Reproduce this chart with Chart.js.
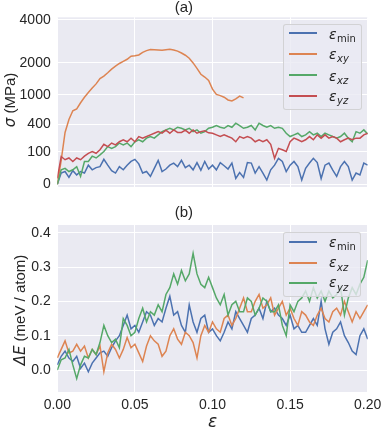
<!DOCTYPE html>
<html><head><meta charset="utf-8">
<script src="https://cdn.jsdelivr.net/npm/chart.js@4/dist/chart.umd.min.js"></script>
<style>
html,body{margin:0;padding:0;background:#fff;}
#wrap{position:relative;width:383px;height:427px;overflow:hidden;font-family:"Liberation Sans",Arial,sans-serif;color:#262626;}
.pane{position:absolute;left:0;width:383px;}
.ylab{position:absolute;font-size:15px;line-height:15px;white-space:nowrap;transform:translate(-50%,-50%) rotate(-90deg);}
.m{font-family:"DejaVu Sans";font-style:italic;}
.leg{position:absolute;background:rgba(234,234,242,0.8);border:1px solid rgba(204,204,204,0.8);border-radius:3px;box-sizing:border-box;}
.li{position:absolute;left:5px;width:28px;height:2px;}
.lt{position:absolute;left:44.7px;font-family:"DejaVu Sans";font-size:14px;line-height:14px;white-space:nowrap;}
.lt .e{font-style:italic;}
.lt .s{font-size:10px;position:relative;top:3.5px;margin-left:0.5px;}
.lt .si{font-style:italic;}
</style></head>
<body>
<div id="wrap">
  <div class="pane" style="top:0;height:200px;"><canvas id="c1" width="383" height="200"></canvas></div>
  <div class="pane" style="top:200px;height:227px;"><canvas id="c2" width="383" height="227"></canvas></div>
  <div class="ylab" style="left:10px;top:100px;"><span class="m">σ</span> (MPa)</div>
  <div class="ylab" style="left:20px;top:310px;"><span class="m">ΔE</span> (meV / atom)</div>
  <div id="leg1" class="leg" style="left:283.3px;top:24px;width:78.4px;height:86px;"></div>
  <div id="leg2" class="leg" style="left:283.3px;top:231.7px;width:77.7px;height:65px;"></div>
</div>
<script>
// ---------- data ----------
const STRAIN_STEP = 0.0025;           // strain spacing of the sampled curves
const strainTicks = [0, 0.05, 0.10, 0.15, 0.20];
const sigmaTicks = [0, 100, 400, 1000, 2000, 4000];
const dETicks = [0.0, 0.1, 0.2, 0.3, 0.4];

// (a) stress, MPa
const sigmaMin = [0,9,12,3,14,6,12,9,30,16, 22,25,55,30,14,9,25,16,30,45, 55,35,9,12,4,20,50,12,18,30, 38,25,50,22,30,16,40,15,45,18, 30,16,40,28,18,38,2,10,3,40, 38,9,25,9,1,16,30,60,45,12, 30,45,25,1,20,38,60,40,2,30, 38,15,4,25,45,25,1,9,6,38, 30];
const sigmaXY = [0,50,290,480,640,680,810,940,1060,1180, 1300,1460,1540,1650,1775,1880,1980,2060,2140,2260, 2280,2310,2420,2490,2540,2530,2520,2510,2530,2550, 2520,2470,2390,2300,2180,2000,1800,1600,1510,1400, 1150,1010,980,940,875,850,900,970,925];
const sigmaXZ = [0,16,20,12,16,25,4,45,45,72, 62,80,102,140,126,140,172,155,172,140, 185,205,185,222,240,222,260,300,323,345, 323,360,345,323,345,300,323,280,300,345, 360,385,360,345,385,360,420,385,345,360, 385,323,420,385,360,385,345,360,345,280, 240,260,280,240,260,300,260,280,240,280, 260,240,222,240,280,222,185,300,280,323, 270];
const sigmaYZ = [2,70,53,62,45,62,53,72,90,102, 90,115,160,140,172,155,185,205,185,222, 185,240,222,240,260,280,300,280,320,280, 323,290,290,320,280,323,280,300,310,285, 280,260,240,260,240,222,185,240,222,240, 222,185,205,185,205,160,60,126,115,102, 185,222,205,185,205,240,205,260,222,260, 222,240,222,185,205,222,205,222,222,260, 280];

// (b) energy, meV / atom
const dEmin = [0.015,0.04,0.055,0.035,0.025,0.04,0.005,0.02,-0.005,0.02, 0.035,0.05,0.055,0.04,0.065,0.085,0.10,0.13,0.16,0.12, 0.13,0.11,0.14,0.17,0.16,0.13,0.15,0.14,0.18,0.215, 0.16,0.17,0.13,0.11,0.19,0.14,0.11,0.15,0.16,0.11, 0.12,0.10,0.085,0.11,0.14,0.12,0.17,0.15,0.13,0.11, 0.15,0.16,0.18,0.15,0.20,0.17,0.18,0.16,0.15,0.13, 0.16,0.12,0.13,0.11,0.11,0.13,0.15,0.13,0.20,0.12, 0.075,0.11,0.12,0.14,0.10,0.08,0.055,0.045,0.10,0.12, 0.09];
const dExz = [0.035,0.06,0.085,0.05,0.055,0.075,0.055,0.07,0.035,0.06, 0.045,0.07,-0.005,0.05,0.075,0.06,0.035,0.06,0.095,0.065, 0.075,0.05,0.025,0.07,0.10,0.085,0.075,0.04,0.055,0.10, 0.12,0.09,0.075,0.11,0.10,0.08,0.035,0.10,0.13,0.11, 0.14,0.12,0.11,0.15,0.16,0.13,0.15,0.18,0.21,0.17, 0.17,0.20,0.22,0.18,0.19,0.21,0.16,0.18,0.20,0.16, 0.18,0.15,0.13,0.17,0.16,0.14,0.13,0.16,0.18,0.15, 0.14,0.17,0.18,0.16,0.20,0.17,0.14,0.17,0.15,0.17, 0.19];
const dEyz = [0.00,0.03,0.035,0.06,0.015,-0.025,0.015,0.04,0.035,0.06, 0.045,0.08,0.13,0.10,0.08,0.09,0.065,0.15,0.13,0.10, 0.11,0.15,0.18,0.14,0.17,0.16,0.19,0.17,0.22,0.24, 0.28,0.25,0.29,0.26,0.28,0.34,0.28,0.25,0.24,0.27, 0.24,0.21,0.19,0.22,0.16,0.19,0.20,0.17,0.17,0.21, 0.20,0.16,0.18,0.21,0.20,0.17,0.17,0.19,0.13,0.10, 0.19,0.17,0.20,0.21,0.23,0.20,0.24,0.21,0.23,0.20, 0.23,0.21,0.22,0.24,0.16,0.21,0.24,0.22,0.25,0.27, 0.32];

// ---------- style ----------
const BLUE='#4C72B0', ORANGE='#DD8452', GREEN='#55A868', RED='#C44E52';
const FONT='"Liberation Sans", Arial, sans-serif';
const TXT='#262626';
const POW = 0.44;  // power-law y scale of panel (a)
const fwd = v => Math.sign(v)*Math.pow(Math.abs(v), POW);
const pts = (arr, f) => arr.map((v,i)=>({x: Math.round(i*STRAIN_STEP*10000)/10000, y: f ? f(v) : v}));

const bgPlugin = {id:'bg', beforeDraw(c){const a=c.chartArea, ctx=c.ctx; ctx.save(); ctx.fillStyle='#EAEAF2'; ctx.fillRect(a.left,a.top,a.right-a.left,a.bottom-a.top); ctx.restore();}};
function ds(label, data, color, order){
  return {label, data, borderColor:color, backgroundColor:color, borderWidth:1.5, pointRadius:0, tension:0, fill:false, order};
}
function noPad(s){ s.paddingLeft=0; s.paddingRight=0; s.paddingTop=0; s.paddingBottom=0; }
function xScale(showLabels, h){
  return {type:'linear', min:0, max:0.2,
    afterBuildTicks:s=>{s.ticks=strainTicks.map(v=>({value:v}));},
    ticks:{display:showLabels, callback:(v,i)=>strainTicks[i].toFixed(2), font:{family:FONT,size:14}, color:TXT, padding:5, maxRotation:0, autoSkip:false},
    grid:{color:'#ffffff', lineWidth:1, drawTicks:false},
    border:{display:false},
    title: showLabels ? {display:true, text:'ε', font:{family:'"DejaVu Sans"', size:17, style:'italic', lineHeight:1}, color:TXT, padding:{top:0,bottom:-4}} : {display:false},
    afterFit:s=>{s.height=h; noPad(s);}
  };
}
function baseOpts(title, tPad){
  return {responsive:false, animation:false, events:[], devicePixelRatio:1,
    layout:{padding:{left:0,right:15.3,top:0,bottom:0}},
    plugins:{legend:{display:false}, tooltip:{enabled:false},
      title:{display:true, text:title, font:{family:FONT,size:15,weight:'normal',lineHeight:1}, color:TXT, padding:tPad}},
  };
}

const o1 = baseOpts('(a)', {top:0,bottom:2.3});
o1.scales = {
  x: xScale(false, 13),
  y: {type:'linear', min:-0.63, max:39.0,
      afterBuildTicks:s=>{s.ticks=sigmaTicks.map(v=>({value:fwd(v)}));},
      ticks:{callback:(v,i)=>String(sigmaTicks[i]), font:{family:FONT,size:14}, color:TXT, padding:6.6, autoSkip:false},
      grid:{color:'#ffffff', lineWidth:1, drawTicks:false}, border:{display:false},
      afterFit:s=>{s.width=57.3; noPad(s);}}
};
new Chart(document.getElementById('c1'), {type:'line',
  data:{datasets:[
    ds('ε_min', pts(sigmaMin, fwd), BLUE, 4),
    ds('ε_xy', pts(sigmaXY, fwd), ORANGE, 3),
    ds('ε_xz', pts(sigmaXZ, fwd), GREEN, 2),
    ds('ε_yz', pts(sigmaYZ, fwd), RED, 1)]},
  options:o1, plugins:[bgPlugin]});

const o2 = baseOpts('(b)', {top:5.5,bottom:4.5});
o2.scales = {
  x: xScale(true, 35),
  y: {type:'linear', min:-0.064, max:0.4224,
      afterBuildTicks:s=>{s.ticks=dETicks.map(v=>({value:v}));},
      ticks:{callback:(v,i)=>dETicks[i].toFixed(1), font:{family:FONT,size:14}, color:TXT, padding:6.6, autoSkip:false},
      grid:{color:'#ffffff', lineWidth:1, drawTicks:false}, border:{display:false},
      afterFit:s=>{s.width=57.3; noPad(s);}}
};
new Chart(document.getElementById('c2'), {type:'line',
  data:{datasets:[
    ds('ε_min', pts(dEmin), BLUE, 3),
    ds('ε_xz', pts(dExz), ORANGE, 2),
    ds('ε_yz', pts(dEyz), GREEN, 1)]},
  options:o2, plugins:[bgPlugin]});

// ---------- legends (math-style labels) ----------
function legend(id, items, rows){
  const el=document.getElementById(id);
  items.forEach((it,k)=>{
    const r=rows[k];
    const ln=document.createElement('div'); ln.className='li'; ln.style.top=Math.round(r-1)+'px'; ln.style.backgroundColor=it.c; el.appendChild(ln);
    const t=document.createElement('div'); t.className='lt'; t.style.top=(r-6.8)+'px';
    const e=document.createElement('span'); e.className='e'; e.textContent='ε'; t.appendChild(e);
    const s=document.createElement('span'); s.className='s'+(it.it?' si':''); s.textContent=it.sub; t.appendChild(s);
    el.appendChild(t);
  });
}
legend('leg1', [{c:BLUE,sub:'min'},{c:ORANGE,sub:'xy',it:1},{c:GREEN,sub:'xz',it:1},{c:RED,sub:'yz',it:1}], [8.3,28.7,50.3,70.7]);
legend('leg2', [{c:BLUE,sub:'min'},{c:ORANGE,sub:'xz',it:1},{c:GREEN,sub:'yz',it:1}], [9,29.6,49.6]);
</script>
</body></html>
